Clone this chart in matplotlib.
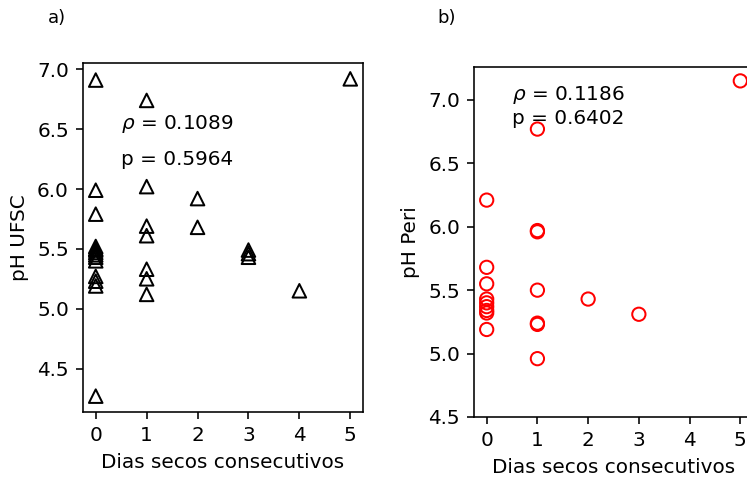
import numpy as np
import matplotlib
matplotlib.use('Agg')
import matplotlib.pyplot as plt

# Dias secos consecutivos x pH (UFSC e Peri)
dias_ufsc = [0, 0, 0, 0, 0, 0, 0, 0, 0, 0, 0, 0, 0, 0,
	1, 1, 1, 1, 1, 1, 1,
	2, 2,
	3, 3, 3,
	4,
	5]
ph_ufsc = [6.91, 5.99, 5.79, 5.52, 5.50, 5.49, 5.47, 5.45, 5.43, 5.40, 5.27, 5.23, 5.19, 4.27,
	6.74, 6.02, 5.69, 5.61, 5.33, 5.25, 5.12,
	5.92, 5.68,
	5.49, 5.46, 5.43,
	5.15,
	6.92]

dias_peri = [0, 0, 0, 0, 0, 0, 0, 0, 0,
	1, 1, 1, 1, 1, 1, 1,
	2,
	3,
	5]
ph_peri = [6.21, 5.68, 5.55, 5.43, 5.40, 5.37, 5.34, 5.32, 5.19,
	6.77, 5.97, 5.96, 5.50, 5.24, 5.23, 4.96,
	5.43,
	5.31,
	7.15]

rho_ufsc, p_ufsc = 0.1089, 0.5964
rho_peri, p_peri = 0.1186, 0.6402

fig = plt.figure(figsize = (747/144, 479/144), dpi = 144)

#a) UFSC
ax1 = fig.add_axes([83/747, 67/479, 280/747, 349/479])
ax1.scatter(dias_ufsc, ph_ufsc, s = 46, marker = '^', facecolors = 'none', edgecolors = 'k')
ax1.set_xticks([0, 1, 2, 3, 4, 5])
ax1.set_xlabel('Dias secos consecutivos')
ax1.set_ylabel('pH UFSC')
ax1.text(0.5, 6.54, r'$\rho$ = ' + str(rho_ufsc), va = 'center')
ax1.text(0.5, 6.25, 'p = ' + str(p_ufsc), va = 'center')

#b) Peri
ax2 = fig.add_axes([474/747, 62/479, 279/747, 350/479])
ax2.scatter(dias_peri, ph_peri, s = 44, marker = 'o', facecolors = 'none', edgecolors = 'r')
ax2.set_ylim(bottom = 4.5)
ax2.set_xticks([0, 1, 2, 3, 4, 5])
ax2.set_xlabel('Dias secos consecutivos')
ax2.set_ylabel('pH Peri')
ax2.text(0.5, 6.955, r'$\rho$ = ' + str(rho_peri) + '\np = ' + str(p_peri), va = 'center')

fig.text(48/747, 1 - 18/479, 'a)', fontsize = 9, va = 'center', family = ['Liberation Sans Narrow', 'DejaVu Sans'])
fig.text(437/747, 1 - 18/479, 'b)', fontsize = 9, va = 'center', family = ['Liberation Sans Narrow', 'DejaVu Sans'])

fig.savefig('out.png', dpi = 144)
